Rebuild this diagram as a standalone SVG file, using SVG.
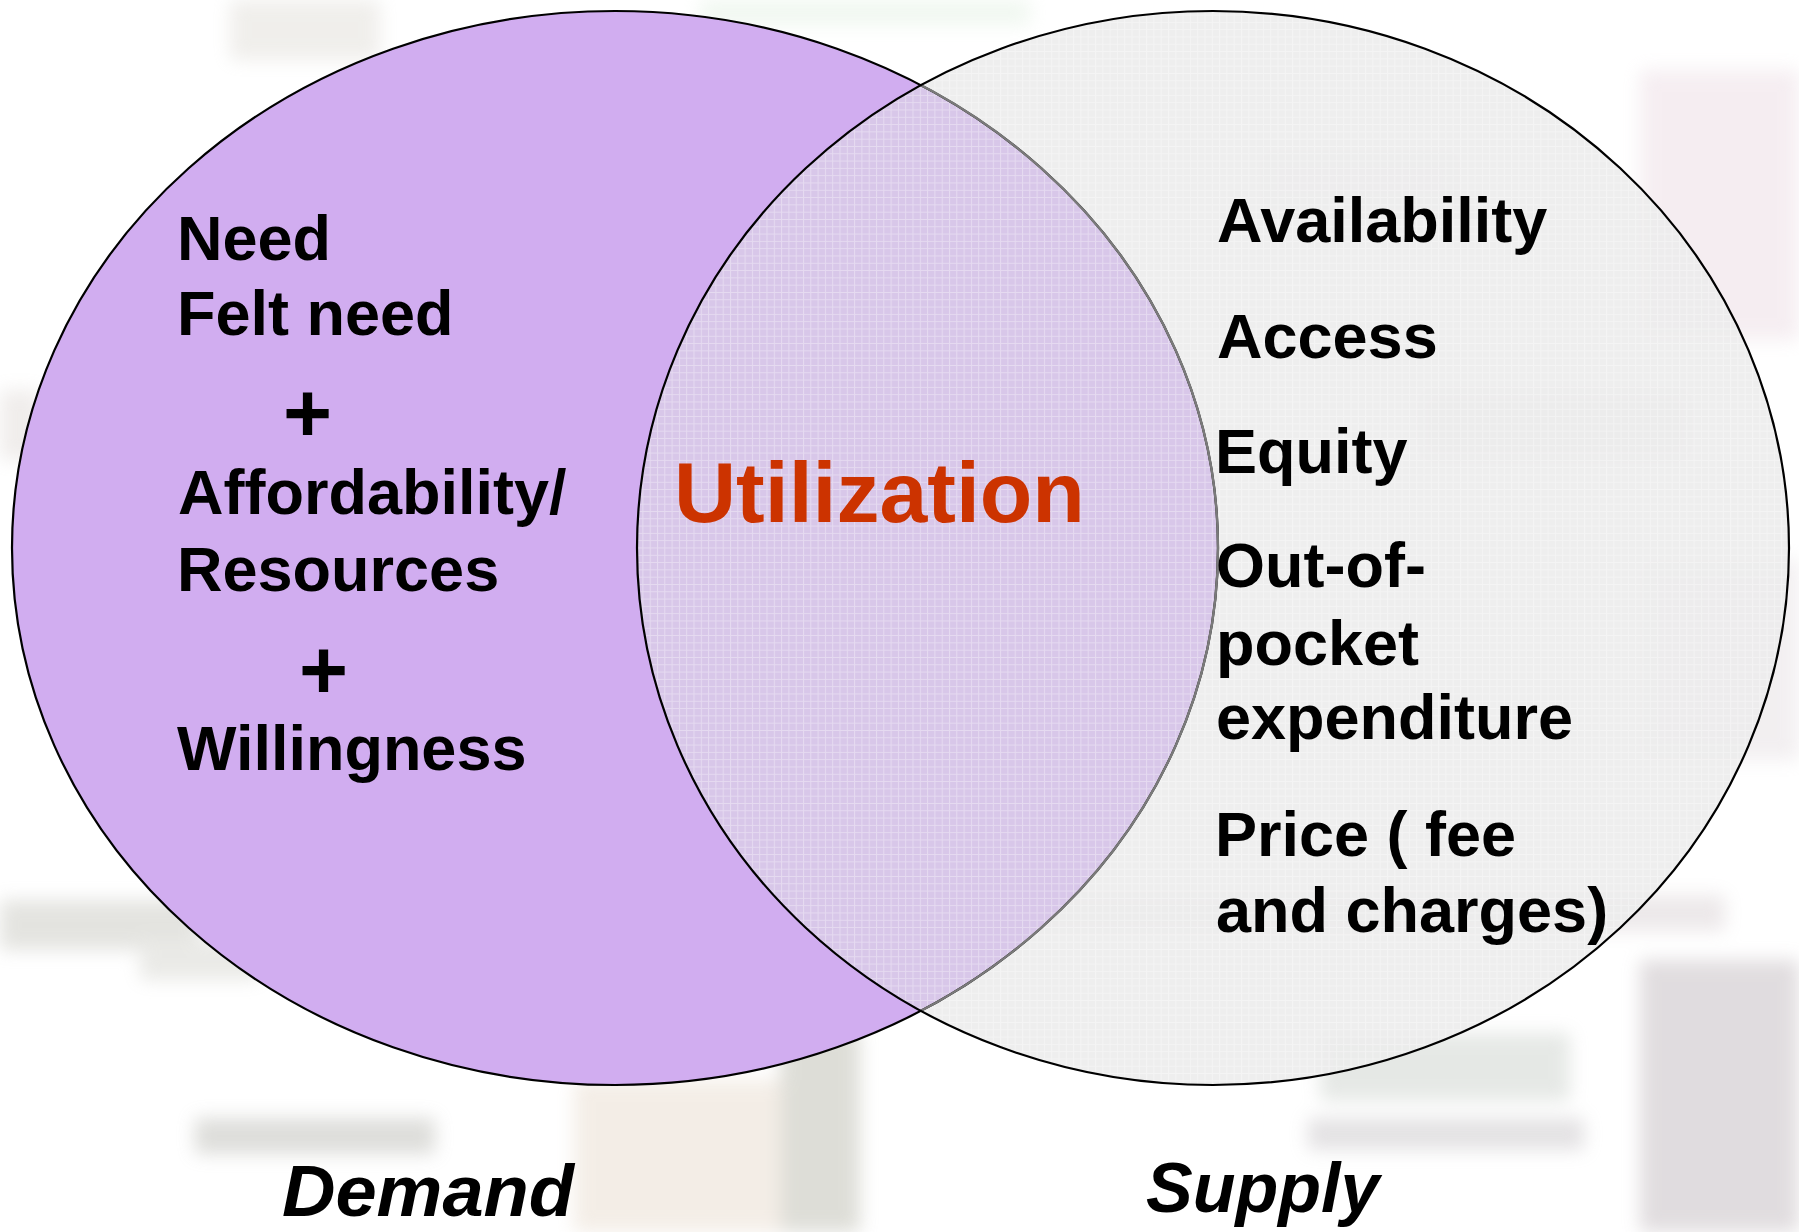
<svg xmlns="http://www.w3.org/2000/svg" width="1799" height="1232" viewBox="0 0 1799 1232">
  <style>
    .item { font-family: "Liberation Sans", Arial, sans-serif; font-weight: bold; font-size: 63px; fill: #000; }
    .plus { font-family: "Liberation Sans", Arial, sans-serif; font-weight: bold; font-size: 84px; fill: #000; }
    .core { font-family: "Liberation Sans", Arial, sans-serif; font-weight: bold; font-size: 86px; fill: #CC3300; }
    .caption { font-family: "Liberation Sans", Arial, sans-serif; font-weight: bold; font-style: italic; fill: #000; }
    .ring { fill: none; stroke: #000; stroke-width: 2.2; }
  </style>
  <defs>
    <filter id="soft" x="-20%" y="-20%" width="140%" height="140%">
      <feGaussianBlur stdDeviation="9"/>
    </filter>
    <pattern id="mesh" width="7.3" height="7.3" patternUnits="userSpaceOnUse">
      <path d="M0 0.5H7.3M0.5 0V7.3" stroke="#ffffff" stroke-width="1" stroke-opacity="0.35" fill="none"/>
    </pattern>
    <clipPath id="rightArea">
      <ellipse cx="1213" cy="548" rx="576" ry="537"/>
    </clipPath>
  </defs>

  <!-- faded backdrop -->
  <rect width="1799" height="1232" fill="#ffffff"/>
  <g id="backdrop" filter="url(#soft)" opacity="0.38">
    <rect x="230" y="0" width="150" height="60" fill="#d8d4cc"/>
    <rect x="480" y="60" width="150" height="110" fill="#e4ddd6"/>
    <rect x="700" y="0" width="330" height="25" fill="#d9ecd9"/>
    <rect x="0" y="390" width="40" height="70" fill="#d8d0cc"/>
    <rect x="0" y="900" width="200" height="50" fill="#b8b8ae"/>
    <rect x="140" y="940" width="120" height="40" fill="#c8c8c0"/>
    <rect x="195" y="1118" width="240" height="36" fill="#a8a8a0"/>
    <rect x="574" y="1080" width="210" height="152" fill="#e2d2c0"/>
    <rect x="780" y="1030" width="80" height="202" fill="#a8a898"/>
    <rect x="895" y="895" width="830" height="36" fill="#cfc4c8"/>
    <rect x="1320" y="1033" width="250" height="68" fill="#bdc4bd"/>
    <rect x="1308" y="1118" width="276" height="32" fill="#b8b4b8"/>
    <rect x="1640" y="960" width="159" height="272" fill="#b0a6ac"/>
    <rect x="1640" y="70" width="159" height="270" fill="#e6d2dc"/>
    <rect x="1420" y="390" width="270" height="70" fill="#cfc8cc"/>
    <rect x="1640" y="560" width="159" height="200" fill="#ded6da"/>
    <rect x="1260" y="150" width="200" height="60" fill="#dcd6d8"/>
  </g>

  <!-- Demand set -->
  <g id="demand">
    <ellipse cx="615" cy="548" rx="603" ry="537" fill="#D1ADF0"/>
  </g>

  <!-- Supply set, translucent over the backdrop -->
  <g id="supply">
    <ellipse cx="1213" cy="548" rx="576" ry="537" fill="#ECECEC" fill-opacity="0.88"/>
    <ellipse cx="1213" cy="548" rx="576" ry="537" fill="url(#mesh)"/>
  </g>

  <!-- Overlap: utilization -->
  <g id="utilization-area">
    <ellipse cx="615" cy="548" rx="603" ry="537" fill="#D8C7E9" clip-path="url(#rightArea)"/>
    <ellipse cx="615" cy="548" rx="603" ry="537" fill="url(#mesh)" clip-path="url(#rightArea)"/>
  </g>

  <!-- outlines -->
  <g id="outlines">
    <ellipse class="ring" cx="615" cy="548" rx="603" ry="537"/>
    <ellipse cx="615" cy="548" rx="603" ry="537" fill="none" stroke="#7a7a7a" stroke-width="2.4" clip-path="url(#rightArea)"/>
    <ellipse class="ring" cx="1213" cy="548" rx="576" ry="537"/>
  </g>

  <!-- demand factors -->
  <g id="demand-factors">
    <text class="item" x="177" y="260">Need</text>
    <text class="item" x="177" y="335">Felt need</text>
    <text class="plus" x="283" y="442">+</text>
    <text class="item" x="178" y="514">Affordability/</text>
    <text class="item" x="177" y="591">Resources</text>
    <text class="plus" x="299" y="699">+</text>
    <text class="item" x="177" y="770">Willingness</text>
  </g>

  <!-- centre label -->
  <g id="utilization-label">
    <text class="core" x="674" y="522">Utilization</text>
  </g>

  <!-- supply factors -->
  <g id="supply-factors">
    <text class="item" x="1217" y="242">Availability</text>
    <text class="item" x="1217" y="358">Access</text>
    <text class="item" x="1215" y="473">Equity</text>
    <text class="item" x="1216" y="587">Out-of-</text>
    <text class="item" x="1216" y="665">pocket</text>
    <text class="item" x="1216" y="739">expenditure</text>
    <text class="item" x="1215" y="856">Price ( fee</text>
    <text class="item" x="1216" y="932">and charges)</text>
  </g>

  <!-- set captions -->
  <g id="captions">
    <text class="caption" x="282" y="1216" font-size="72" textLength="292" lengthAdjust="spacingAndGlyphs">Demand</text>
    <text class="caption" x="1146" y="1212" font-size="70">Supply</text>
  </g>
</svg>
